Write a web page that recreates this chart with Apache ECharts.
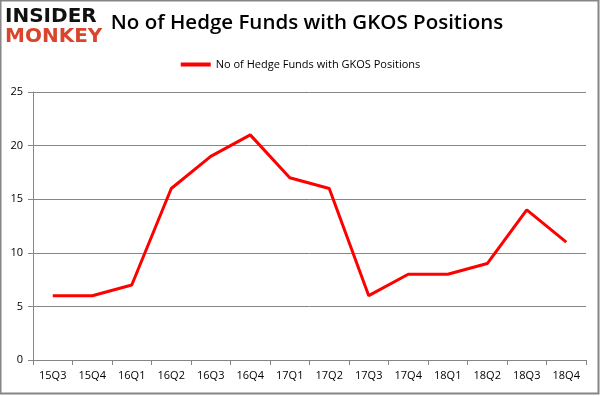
<!DOCTYPE html>
<html>
<head>
<meta charset="utf-8">
<script src="https://cdn.jsdelivr.net/npm/echarts@6/dist/echarts.min.js"></script>
<style>
  html, body { margin: 0; padding: 0; background: #fff; }
  #main { width: 601px; height: 396px; }
</style>
</head>
<body>
<div id="main"></div>
<script>
var quarters = ['15Q3','15Q4','16Q1','16Q2','16Q3','16Q4','17Q1','17Q2','17Q3','17Q4','18Q1','18Q2','18Q3','18Q4'];
var fundCounts = [6, 6, 7, 16, 19, 21, 17, 16, 6, 8, 8, 9, 14, 11];
var seriesName = 'No of Hedge Funds with GKOS Positions';

var chart = echarts.init(document.getElementById('main'));
var option = {
  animation: false,
  backgroundColor: '#fff',
  title: {
    text: seriesName,
    left: 302,
    textAlign: 'center',
    top: 8,
    textStyle: { fontFamily: 'Open Sans', fontSize: 20.5, fontWeight: 600, color: '#000' }
  },
  legend: {
    data: [seriesName],
    top: 54,
    left: 'center',
    itemWidth: 30,
    itemHeight: 4,
    icon: 'rect',
    textStyle: { fontFamily: 'Open Sans', fontSize: 11, color: '#000' }
  },
  graphic: [
    { type: 'rect', shape: { x: 0.5, y: 0.5, width: 598, height: 393 },
      style: { fill: 'none', stroke: '#868686', lineWidth: 2 } },
    { type: 'text', left: 5, top: 7,
      style: { text: 'INSIDER', font: 'bold 20px "DejaVu Sans"', fill: '#111' } },
    { type: 'text', left: 5, top: 27,
      style: { text: 'MONKEY', font: 'bold 20px "DejaVu Sans"', fill: '#d9442c' } }
  ],
  grid: { left: 33, right: 15, top: 92, bottom: 36 },
  xAxis: {
    type: 'category',
    data: quarters,
    boundaryGap: true,
    axisLine: { lineStyle: { color: '#868686' } },
    axisTick: { show: true, length: 5, lineStyle: { color: '#868686' } },
    axisLabel: { color: '#000', fontFamily: 'Open Sans', fontSize: 11, margin: 10 }
  },
  yAxis: {
    type: 'value',
    min: 0, max: 25, interval: 5,
    axisLine: { show: true, lineStyle: { color: '#868686' } },
    axisTick: { show: true, length: 5, lineStyle: { color: '#868686' } },
    axisLabel: { color: '#000', fontFamily: 'Open Sans', fontSize: 11, margin: 10 },
    splitLine: { lineStyle: { color: '#868686' } }
  },
  series: [{
    name: seriesName,
    type: 'line',
    data: fundCounts,
    symbol: 'none',
    lineStyle: { color: '#ff0000', width: 3 },
    itemStyle: { color: '#ff0000' }
  }]
};
chart.setOption(option);
</script>
</body>
</html>
